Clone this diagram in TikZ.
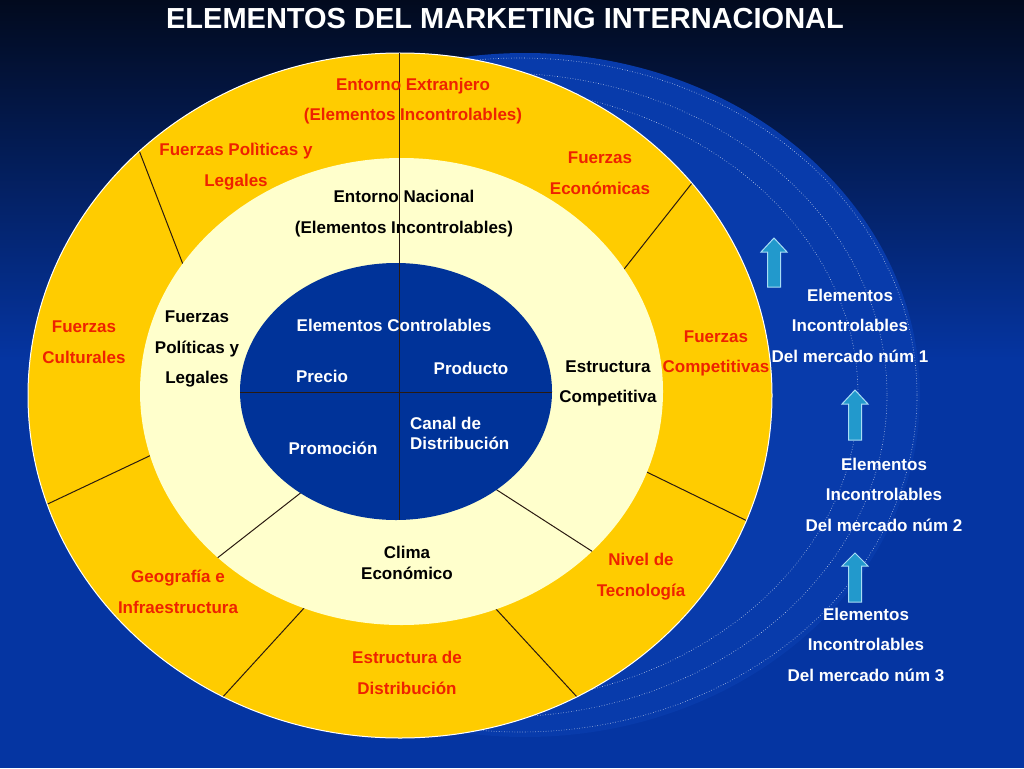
\documentclass[tikz,border=0pt]{standalone}
\usepackage{fontspec}
\setmainfont{Liberation Sans}
\definecolor{bgtop}{HTML}{020A1E}
\definecolor{bgbot}{HTML}{0535A2}
\definecolor{ringblue}{HTML}{083BAB}
\definecolor{yellowc}{HTML}{FFCC00}
\definecolor{creamc}{HTML}{FFFFCC}
\definecolor{bluec}{HTML}{003399}
\definecolor{redtext}{HTML}{EE2200}
\definecolor{arrowfill}{HTML}{2299CC}
\definecolor{arrowedge}{HTML}{A8DDF5}
\definecolor{divline}{HTML}{2A1A10}
\tikzset{
  lbl/.style={inner sep=0pt, align=center, font=\bfseries\fontsize{17}{30.5}\selectfont},
  lbltight/.style={inner sep=0pt, align=center, font=\bfseries\fontsize{17}{20.5}\selectfont},
  lblred/.style={lbl, text=redtext},
  lblblack/.style={lbl, text=black},
  lblwhite/.style={lbl, text=white},
  divider/.style={draw=divline, line width=1pt},
  dotring/.style={draw=white, dotted, line width=0.6pt, draw opacity=0.75},
  uparrow/.style={fill=arrowfill, draw=arrowedge, line width=1pt, line join=miter}
}
\begin{document}
\begin{tikzpicture}[x=1pt,y=-1pt]
\useasboundingbox (0,0) rectangle (1024,768);
% background
\shade[top color=bgtop, bottom color=bgbot] (0,0) rectangle (1024,361);
\fill[bgbot] (0,360) rectangle (1024,768);
% rings behind
\fill[ringblue] (525,395) ellipse [x radius=395, y radius=342];
\draw[dotring] (520,395) ellipse [x radius=397, y radius=337];
\draw[dotring] (500,395) ellipse [x radius=387, y radius=322];
\draw[dotring] (480,395) ellipse [x radius=378, y radius=308];
% outer yellow ring
\fill[yellowc] (400,395.5) ellipse [x radius=372, y radius=342.5];
\begin{scope}
  \clip (400,395.5) ellipse [x radius=372, y radius=342.5];
  \coordinate (y1a) at (130,127); \coordinate (y1b) at (194,293);
  \coordinate (y2a) at (707,164); \coordinate (y2b) at (606,292);
  \coordinate (y3a) at (18,518);  \coordinate (y3b) at (179,442);
  \coordinate (y4a) at (620,459); \coordinate (y4b) at (774,534);
  \coordinate (y5a) at (326,584); \coordinate (y5b) at (199,723);
  \coordinate (y6a) at (473,584); \coordinate (y6b) at (601,723);
  \draw[divider] (y1a) -- (y1b);
  \draw[divider] (y2a) -- (y2b);
  \draw[divider] (y3a) -- (y3b);
  \draw[divider] (y4a) -- (y4b);
  \draw[divider] (y5a) -- (y5b);
  \draw[divider] (y6a) -- (y6b);
\end{scope}
\draw[white, line width=1pt] (400,395.5) ellipse [x radius=372, y radius=342.5];
% cream ring
\fill[creamc] (401.5,391.5) ellipse [x radius=261.5, y radius=233.5];
\begin{scope}
  \clip (401.5,391.5) ellipse [x radius=261.5, y radius=233.5];
  \coordinate (c1a) at (193,577); \coordinate (c1b) at (321,477);
  \coordinate (c2a) at (469,472); \coordinate (c2b) at (618,568);
  \draw[divider] (c1a) -- (c1b);
  \draw[divider] (c2a) -- (c2b);
\end{scope}
% blue core
\fill[bluec] (396,391.5) ellipse [x radius=156, y radius=128.5];
\begin{scope}
  \clip (396,391.5) ellipse [x radius=156, y radius=128.5];
  \coordinate (h1) at (230,392); \coordinate (h2) at (560,392);
  \draw[divider] (h1) -- (h2);
\end{scope}
\coordinate (vtop) at (399,53);
\coordinate (vbot) at (399,520);
\draw[divider] (vtop) -- (vbot);
% title
\node[inner sep=0pt, text=white, font=\bfseries\fontsize{29}{34}\selectfont] (title) at (505,19) {ELEMENTOS DEL MARKETING INTERNACIONAL};
% red labels (outer ring)
\node[lblred] (ext) at (413,101) {Entorno Extranjero\\(Elementos Incontrolables)};
\node[lblred] (fpol) at (236,166.5) {Fuerzas Polìticas y\\Legales};
\node[lblred] (feco) at (600,173) {Fuerzas\\Económicas};
\node[lblred] (fcul) at (84,342) {Fuerzas\\Culturales};
\node[lblred] (fcom) at (716,353.5) {Fuerzas\\Competitivas};
\node[lblred] (geo) at (178,592) {Geografía e\\Infraestructura};
\node[lblred] (tec) at (641,576.5) {Nivel de\\Tecnología};
\node[lblred] (edis) at (407,673) {Estructura de\\Distribución};
% black labels (cream ring)
\node[lblblack] (nac) at (404,213.5) {Entorno Nacional\\(Elementos Incontrolables)};
\node[lblblack] (fpl) at (197,349) {Fuerzas\\Políticas y\\Legales};
\node[lblblack] (ecom) at (608,383.5) {Estructura\\Competitiva};
\node[lbltight, text=black] (clima) at (407,563) {Clima\\Económico};
% white labels (core)
\node[lblwhite] (ctrl) at (394,325) {Elementos Controlables};
\node[lblwhite] (precio) at (322,376) {Precio};
\node[lblwhite] (prod) at (471,368) {Producto};
\node[lbltight, text=white, align=left, anchor=west] (canal) at (410,433.5) {Canal de\\Distribución};
\node[lblwhite] (promo) at (333,448) {Promoción};
% right side labels
\node[lblwhite] (m1) at (850,325.5) {Elementos\\Incontrolables\\Del mercado núm 1};
\node[lblwhite] (m2) at (884,494.5) {Elementos\\Incontrolables\\Del mercado núm 2};
\node[lblwhite] (m3) at (866,644.5) {Elementos\\Incontrolables\\Del mercado núm 3};
% arrows
\draw[uparrow] (774,238) -- (787,252) -- (780.5,252) -- (780.5,287) -- (767.5,287) -- (767.5,252) -- (761,252) -- cycle;
\draw[uparrow] (855,390) -- (868,404) -- (861.5,404) -- (861.5,440) -- (848.5,440) -- (848.5,404) -- (842,404) -- cycle;
\draw[uparrow] (855,553) -- (868,566) -- (861.5,566) -- (861.5,602) -- (848.5,602) -- (848.5,566) -- (842,566) -- cycle;
\end{tikzpicture}
\end{document}
